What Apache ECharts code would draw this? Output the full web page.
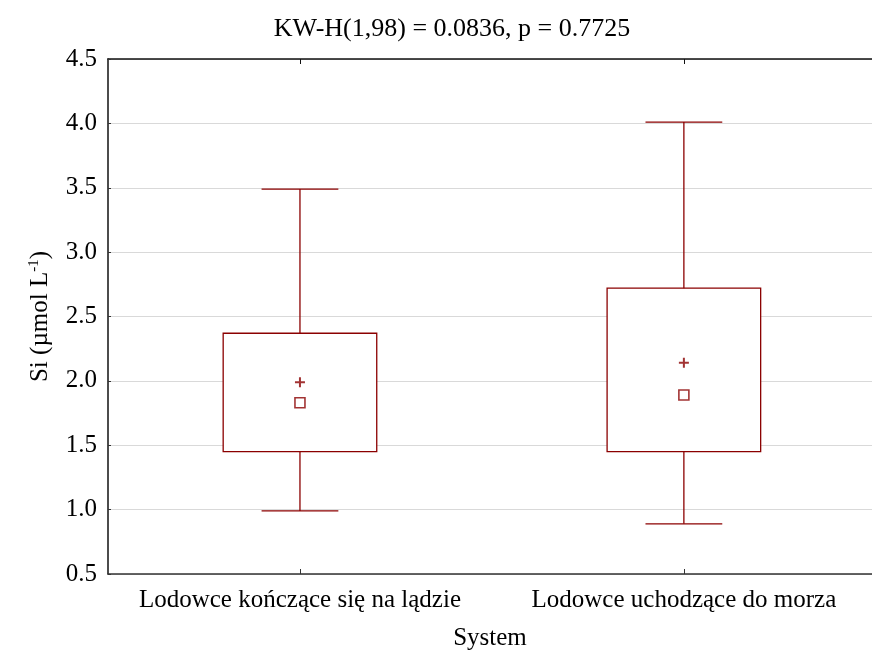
<!DOCTYPE html>
<html>
<head>
<meta charset="utf-8">
<script src="https://cdn.jsdelivr.net/npm/echarts@6/dist/echarts.min.js"></script>
<style>
  html, body { margin: 0; padding: 0; background: #fff; }
  #chart { width: 872px; height: 658px; }
</style>
</head>
<body>
<div id="chart"></div>
<script>
// Silicon concentration by glacier system
const categories = ['Lodowce kończące się na lądzie', 'Lodowce uchodzące do morza'];
const minVals = [0.99, 0.89];
const q1Vals = [1.45, 1.45];
const q3Vals = [2.37, 2.72];
const maxVals = [3.49, 4.01];
const medianVals = [1.83, 1.89];
const meanVals = [1.99, 2.14];
const yTicks = { min: 0.5, max: 4.5, step: 0.5 };
const catPositions = categories.map((c, i) => i);

const RED = '#8b0000';
const FONT = 'Liberation Serif';

const boxData = categories.map((c, i) => [i, minVals[i], q1Vals[i], q3Vals[i], maxVals[i]]);

function renderBox(params, api) {
  const x = api.value(0);
  const pMin = api.coord([x, api.value(1)]);
  const pQ1 = api.coord([x, api.value(2)]);
  const pQ3 = api.coord([x, api.value(3)]);
  const pMax = api.coord([x, api.value(4)]);
  const band = api.size([1, 0])[0];
  const half = band * 0.2;
  const cap = band * 0.1;
  const cx = pQ1[0];
  const style = { stroke: RED, lineWidth: 1.3, fill: null };
  return {
    type: 'group',
    children: [
      { type: 'rect', shape: { x: cx - half, y: pQ3[1], width: half * 2, height: pQ1[1] - pQ3[1] },
        style: { stroke: RED, lineWidth: 1.3, fill: '#fff' } },
      { type: 'line', shape: { x1: cx, y1: pQ3[1], x2: cx, y2: pMax[1] }, style },
      { type: 'line', shape: { x1: cx, y1: pQ1[1], x2: cx, y2: pMin[1] }, style },
      { type: 'line', shape: { x1: cx - cap, y1: pMax[1], x2: cx + cap, y2: pMax[1] }, style },
      { type: 'line', shape: { x1: cx - cap, y1: pMin[1], x2: cx + cap, y2: pMin[1] }, style }
    ]
  };
}

// horizontal axis: categories sit at 0 and 1; the right side runs slightly past the canvas
const xRange = { min: -0.5, max: 1.49 };

const chart = echarts.init(document.getElementById('chart'), null, { renderer: 'canvas' });
chart.setOption({
  backgroundColor: '#fff',
  animation: false,
  title: {
    text: 'KW-H(1,98) = 0.0836, p = 0.7725',
    left: 447, top: 11, textAlign: 'center',
    textStyle: { fontFamily: FONT, fontSize: 26, fontWeight: 'normal', color: '#000' }
  },
  grid: { left: 108, right: 0, top: 59, bottom: 84 },
  xAxis: [
    {
      type: 'value', min: xRange.min, max: xRange.max, position: 'bottom',
      name: 'System', nameLocation: 'middle', nameGap: 52,
      nameTextStyle: { fontFamily: FONT, fontSize: 25, color: '#000' },
      axisLine: { onZero: false, lineStyle: { color: '#333', width: 1.5 } },
      axisTick: { show: true, inside: true, length: 5, customValues: catPositions, lineStyle: { color: '#333' } },
      axisLabel: {
        fontFamily: FONT, fontSize: 25, color: '#000', margin: 14,
        customValues: catPositions, formatter: v => categories[Math.round(v)] || ''
      },
      splitLine: { show: false }
    },
    {
      type: 'value', min: xRange.min, max: xRange.max, position: 'top',
      axisLine: { onZero: false, lineStyle: { color: '#111', width: 1.5 } },
      axisTick: { show: true, inside: true, length: 5, customValues: catPositions, lineStyle: { color: '#111' } },
      axisLabel: { show: false },
      splitLine: { show: false }
    }
  ],
  yAxis: {
    type: 'value', min: yTicks.min, max: yTicks.max, interval: yTicks.step,
    name: '{n|Si (µmol L}{s|-1}{n|)}', nameLocation: 'middle', nameGap: 54, nameRotate: 90,
    nameTextStyle: {
      fontFamily: FONT, fontSize: 25, color: '#000',
      rich: {
        n: { fontFamily: FONT, fontSize: 25, color: '#000' },
        s: { fontFamily: FONT, fontSize: 15, color: '#000', verticalAlign: 'top', padding: [0, 0, 12, 0] }
      }
    },
    axisLine: { show: true, onZero: false, lineStyle: { color: '#111', width: 1.5 } },
    axisTick: { show: true, inside: true, length: 3, lineStyle: { color: '#333' } },
    axisLabel: { fontFamily: FONT, fontSize: 25, color: '#000', margin: 11, formatter: v => v.toFixed(1) },
    splitLine: { show: true, lineStyle: { color: '#d9d9d9', width: 1 } }
  },
  series: [
    { type: 'custom', renderItem: renderBox, data: boxData, encode: { x: 0, y: [1, 2, 3, 4] }, z: 2 },
    {
      type: 'scatter', data: medianVals.map((v, i) => [i, v]),
      symbol: 'rect', symbolSize: 10,
      itemStyle: { color: '#fff', borderColor: RED, borderWidth: 1.6 }, z: 3
    },
    {
      type: 'scatter', data: meanVals.map((v, i) => [i, v]),
      symbol: 'path://M5,0 L5,10 M0,5 L10,5', symbolSize: 10,
      itemStyle: { color: 'none', borderColor: RED, borderWidth: 2 }, z: 3
    }
  ]
});
</script>
</body>
</html>
